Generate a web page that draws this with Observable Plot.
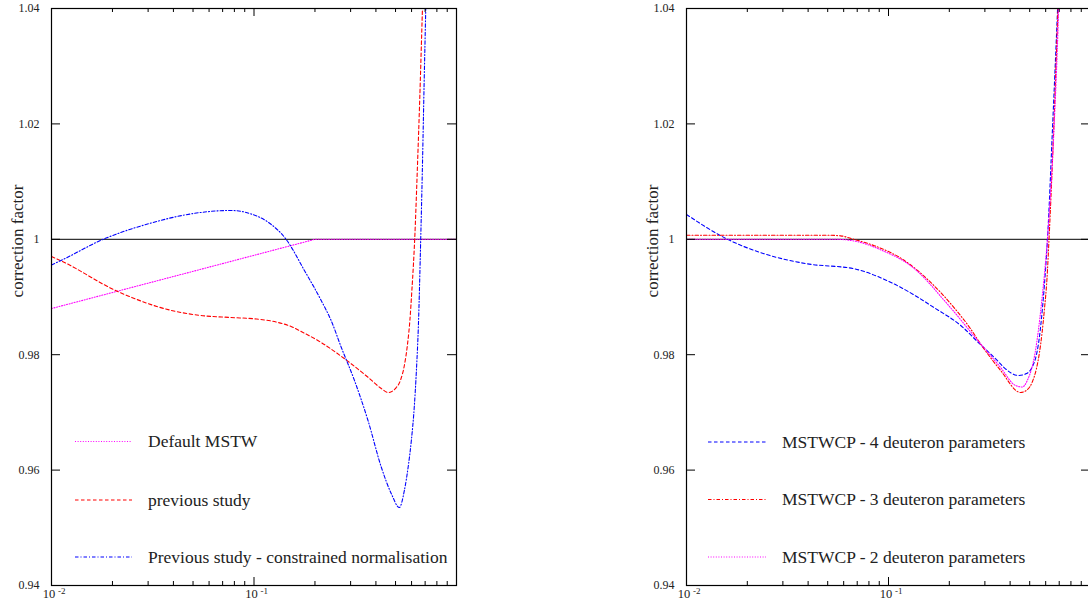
<!DOCTYPE html>
<html>
<head>
<meta charset="utf-8">
<script src="https://cdn.jsdelivr.net/npm/d3@7"></script>
<script src="https://cdn.jsdelivr.net/npm/@observablehq/plot@0.6"></script>
<style>
html, body { margin: 0; padding: 0; background: #fff; overflow: hidden; }
#wrap { position: relative; width: 1088px; height: 610px; overflow: hidden; }
.panel { position: absolute; top: 0; }
#legend { position: absolute; left: 0; top: 0; pointer-events: none; }
</style>
</head>
<body>
<div id="wrap"></div>
<script>
// ---------- data ----------
const yLabel = "correction factor";
const yTickValues = [0.94, 0.96, 0.98, 1.0, 1.02, 1.04];
const xMajorTicks = [0.01, 0.1, 1];
const xMinorTicks = [0.02, 0.03, 0.04, 0.05, 0.06, 0.07, 0.08, 0.09, 0.2, 0.3, 0.4, 0.5, 0.6, 0.7, 0.8, 0.9];
const xLabelTicks = [0.01, 0.1];
const xLabelBase = "10";
const xLabelExp = ["-2", "-1"];
const referenceLine = [1.0];

// Left panel
const leftNames = ["Default MSTW", "previous study", "Previous study - constrained normalisation"];
const leftDefaultX = [0.01, 0.2, 1.0];
const leftDefaultY = [0.988, 1.0, 1.0];
const leftPrevX = [0.01, 0.0111, 0.0211, 0.0388, 0.0547, 0.0769, 0.1023, 0.1285, 0.1525, 0.171, 0.2147, 0.279, 0.3667, 0.4253, 0.4605, 0.4989, 0.5283, 0.5527, 0.5719, 0.5885, 0.6020, 0.6124, 0.6217, 0.641, 0.658, 0.6786, 0.69];
const leftPrevY = [0.997, 0.9963, 0.9910, 0.9877, 0.98679, 0.98645, 0.98619, 0.98567, 0.98489, 0.98402, 0.98211, 0.97934, 0.97605, 0.97414, 0.97345, 0.97414, 0.97553, 0.97813, 0.98160, 0.98593, 0.99113, 0.99546, 1.0, 1.0124, 1.024, 1.0397, 1.048];
const leftConsX = [0.01, 0.0111, 0.018, 0.0309, 0.0452, 0.077, 0.0966, 0.117, 0.144, 0.1774, 0.2147, 0.2405, 0.2696, 0.3137, 0.3655, 0.4253, 0.4767, 0.5222, 0.5527, 0.5785, 0.5985, 0.6194, 0.6339, 0.6484, 0.6657, 0.6786, 0.692, 0.7047, 0.712];
const leftConsY = [0.99556, 0.9963, 1.0, 1.0028, 1.0042, 1.005, 1.0044, 1.003, 1.0, 0.9946, 0.9894, 0.9859, 0.9813, 0.9755, 0.9686, 0.9605, 0.9559, 0.95352, 0.95646, 0.96080, 0.96513, 0.97120, 0.97726, 0.98506, 1.0, 1.0124, 1.027, 1.0397, 1.047];

// Right panel
const rightNames = ["MSTWCP - 4 deuteron parameters", "MSTWCP - 3 deuteron parameters", "MSTWCP - 2 deuteron parameters"];
const right4X = [0.01, 0.01596, 0.0242, 0.0396, 0.0673, 0.106, 0.1675, 0.236, 0.2748, 0.3453, 0.3724, 0.4401, 0.4822, 0.5162, 0.5403, 0.5590, 0.5719, 0.5851, 0.5985, 0.6124, 0.6484, 0.6866, 0.70];
const right4Y = [1.0043, 1.0, 0.9975, 0.99575, 0.9949, 0.9923, 0.9882, 0.9846, 0.9823, 0.979, 0.9778, 0.97640, 0.97674, 0.97795, 0.98003, 0.98315, 0.98627, 0.99009, 0.99459, 1.0, 1.0192, 1.03965, 1.047];
const right3X = [0.01, 0.05, 0.058, 0.0672, 0.085, 0.119, 0.16, 0.2105, 0.2547, 0.2851, 0.3584, 0.4502, 0.4877, 0.5162, 0.5403, 0.5590, 0.5752, 0.5919, 0.6090, 0.6232, 0.6543, 0.6866, 0.70];
const right3Y = [1.0007, 1.0007, 1.0006, 1.0, 0.9989, 0.9964, 0.9927, 0.9882, 0.9845, 0.9819, 0.9773, 0.97345, 0.97397, 0.97536, 0.97761, 0.98038, 0.98367, 0.98801, 0.99321, 1.0, 1.01712, 1.03757, 1.046];
const right2X = [0.01, 0.055, 0.07, 0.0912, 0.1334, 0.1954, 0.2748, 0.3584, 0.4256, 0.46, 0.486, 0.534, 0.574, 0.6117, 0.658, 0.6935, 0.705];
const right2Y = [1.0, 1.0, 0.9996, 0.9982, 0.9950, 0.9888, 0.9826, 0.9778, 0.97466, 0.9744, 0.9755, 0.9807, 0.9894, 1.0, 1.0183, 1.0385, 1.047];

// ---------- styles ----------
const FONT = "'Liberation Serif', 'Times New Roman', serif";
const MAGENTA = "#ff00ff", RED = "#ff0000", BLUE = "#0000ff";
const DOTTED = "1,1.6", DASHED = "3.5,2.5", DASHDOT = "3.5,2,1,2";

const leftStyles = [
  {stroke: MAGENTA, dash: DOTTED, curve: "linear"},
  {stroke: RED, dash: DASHED, curve: "monotone-x"},
  {stroke: BLUE, dash: DASHDOT, curve: "monotone-x"}
];
const rightStyles = [
  {stroke: BLUE, dash: DASHED, curve: "monotone-x"},
  {stroke: RED, dash: DASHDOT, curve: "monotone-x"},
  {stroke: MAGENTA, dash: DOTTED, curve: "monotone-x"}
];

const toPts = (xs, ys) => xs.map((x, i) => ({x, y: ys[i]}));
const fmtY = d => (d === 1 ? "1" : d.toFixed(2));

const H = 610, MT = 8, MB = 25;
const FRAME_H = H - MT - MB;

function panel(seriesList, styles, width, marginLeft, marginRight) {
  const FRAME_W = width - marginLeft - marginRight;
  const lines = seriesList.map((s, i) => Plot.line(toPts(s[0], s[1]), {
    x: "x", y: "y", stroke: styles[i].stroke, strokeDasharray: styles[i].dash,
    strokeWidth: 1.1, curve: styles[i].curve, clip: true
  }));
  return Plot.plot({
    width, height: H,
    marginLeft, marginRight, marginTop: MT, marginBottom: MB,
    x: {type: "log", domain: [0.01, 1], axis: null},
    y: {domain: [0.94, 1.04], axis: null},
    style: {fontFamily: FONT, background: "transparent", overflow: "visible"},
    marks: [
      Plot.ruleY(referenceLine, {stroke: "black", strokeWidth: 1}),
      ...lines,
      Plot.frame({stroke: "black", strokeWidth: 1.2}),
      // x ticks bottom & top
      Plot.tickX(xMajorTicks, {x: d => d, insetTop: FRAME_H - 8, stroke: "black"}),
      Plot.tickX(xMajorTicks, {x: d => d, insetBottom: FRAME_H - 8, stroke: "black"}),
      Plot.tickX(xMinorTicks, {x: d => d, insetTop: FRAME_H - 4, stroke: "black"}),
      Plot.tickX(xMinorTicks, {x: d => d, insetBottom: FRAME_H - 4, stroke: "black"}),
      // y ticks left & right
      Plot.tickY(yTickValues, {y: d => d, insetRight: FRAME_W - 9, stroke: "black"}),
      Plot.tickY(yTickValues, {y: d => d, insetLeft: FRAME_W - 9, stroke: "black"}),
      // y tick labels
      Plot.text(yTickValues, {y: d => d, frameAnchor: "left", dx: -12, textAnchor: "end",
        text: fmtY, fontSize: 12, fill: "#222"}),
      // x tick labels 10^n
      Plot.text(xLabelTicks, {x: d => d, frameAnchor: "bottom", dy: 12, dx: -2.5,
        textAnchor: "middle", text: () => xLabelBase, fontSize: 12.5, fill: "#222"}),
      Plot.text(xLabelTicks, {x: d => d, frameAnchor: "bottom", dy: 8.5, dx: 6.5,
        textAnchor: "start", text: (d, i) => xLabelExp[i], fontSize: 9, fill: "#222"}),
      // y axis title
      Plot.text([yLabel], {frameAnchor: "left", dx: -34, dy: -56, rotate: -90,
        textAnchor: "middle", text: d => d, fontSize: 17, fill: "#222"})
    ]
  });
}

const wrap = document.getElementById("wrap");

const leftPlot = panel(
  [[leftDefaultX, leftDefaultY], [leftPrevX, leftPrevY], [leftConsX, leftConsY]],
  leftStyles, 470, 51, 14);
leftPlot.classList.add("panel");
leftPlot.style.left = "0px";
wrap.appendChild(leftPlot);

const rightPlot = panel(
  [[right4X, right4Y], [right3X, right3Y], [right2X, right2Y]],
  rightStyles, 470, 66, 0);
rightPlot.classList.add("panel");
rightPlot.style.left = "620px";
wrap.appendChild(rightPlot);

// ---------- legends (inside the frames) ----------
const legendSvg = d3.select(wrap).append("svg")
  .attr("id", "legend").attr("width", 1088).attr("height", 610);

function legend(names, styles, x0, x1, xText, ys) {
  names.forEach((name, i) => {
    legendSvg.append("line")
      .attr("x1", x0).attr("x2", x1).attr("y1", ys[i]).attr("y2", ys[i])
      .attr("stroke", styles[i].stroke).attr("stroke-dasharray", styles[i].dash)
      .attr("stroke-width", 1.1);
    legendSvg.append("text")
      .attr("x", xText).attr("y", ys[i] + 5.8)
      .attr("font-family", FONT).attr("font-size", 17.5).attr("fill", "#222")
      .text(name);
  });
}
legend(leftNames, leftStyles, 75, 132, 148, [441.5, 500, 557]);
legend(rightNames, rightStyles, 708, 766, 782, [442, 499.5, 557]);
</script>
</body>
</html>
